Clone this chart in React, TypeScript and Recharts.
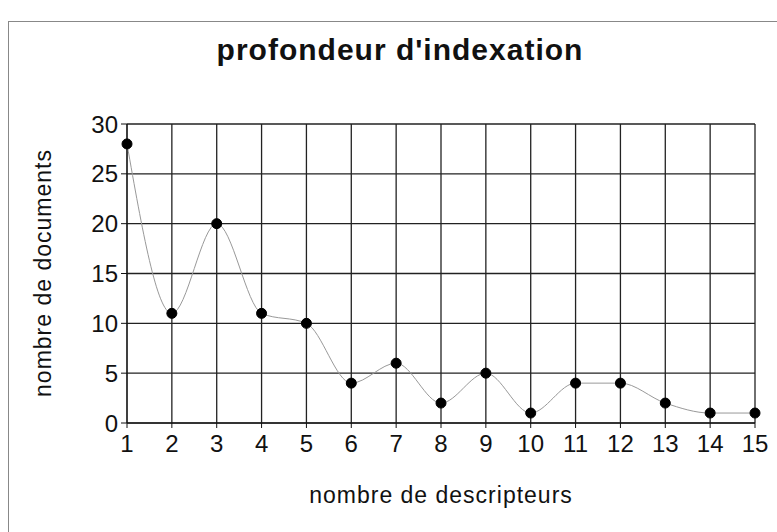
import { CartesianGrid, Line, LineChart, XAxis, YAxis } from "recharts";

const descripteurs = [1, 2, 3, 4, 5, 6, 7, 8, 9, 10, 11, 12, 13, 14, 15];
const documents = [28, 11, 20, 11, 10, 4, 6, 2, 5, 1, 4, 4, 2, 1, 1];
const yTicks = [0, 5, 10, 15, 20, 25, 30];

const data = descripteurs.map((d, i) => ({ d, n: documents[i] }));

const font = "'Liberation Sans', Arial, sans-serif";

export default function App() {
  return (
    <div style={{ position: "fixed", left: 0, top: 0, width: 777, height: 532, background: "#fff", overflow: "hidden", fontFamily: font }}>
      <div
        style={{
          position: "absolute",
          left: 8,
          top: 21,
          width: 800,
          height: 600,
          border: "1px solid #888",
        }}
      />
      <div
        style={{
          position: "absolute",
          left: 0,
          width: 800,
          top: 33,
          textAlign: "center",
          fontSize: 30,
          letterSpacing: 1,
          fontWeight: "bold",
          color: "#111",
        }}
      >
        profondeur d'indexation
      </div>
      <div
        style={{
          position: "absolute",
          left: 127,
          width: 628,
          top: 482,
          textAlign: "center",
          fontSize: 23,
          letterSpacing: 1,
          color: "#111",
        }}
      >
        nombre de descripteurs
      </div>
      <div
        style={{
          position: "absolute",
          left: 43 - 150,
          top: 273 - 13,
          width: 300,
          height: 26,
          lineHeight: "26px",
          textAlign: "center",
          fontSize: 23,
          letterSpacing: 1,
          color: "#111",
          transform: "rotate(-90deg)",
        }}
      >
        nombre de documents
      </div>
      <LineChart
        width={777}
        height={532}
        data={data}
        margin={{ top: 124, right: 22, bottom: 79, left: 67 }}
        style={{ position: "absolute", left: 0, top: 0 }}
      >
        <CartesianGrid stroke="#222" strokeWidth={1.3} horizontalValues={yTicks} verticalValues={descripteurs} />
        <XAxis
          dataKey="d"
          type="number"
          domain={[1, 15]}
          ticks={descripteurs}
          interval={0}
          height={30}
          tickSize={5}
          tickMargin={7}
          stroke="#111"
          tick={{ fill: "#111", fontSize: 24, fontFamily: font }}
        />
        <YAxis
          type="number"
          domain={[0, 30]}
          ticks={yTicks}
          interval={0}
          width={60}
          tickSize={6}
          tickMargin={3}
          stroke="#111"
          tick={{ fill: "#111", fontSize: 24, fontFamily: font }}
        />
        <Line
          dataKey="n"
          type="monotone"
          stroke="#999"
          strokeWidth={1}
          dot={{ r: 5, fill: "#000", stroke: "#000", strokeWidth: 1 }}
          isAnimationActive={false}
        />
      </LineChart>
    </div>
  );
}
